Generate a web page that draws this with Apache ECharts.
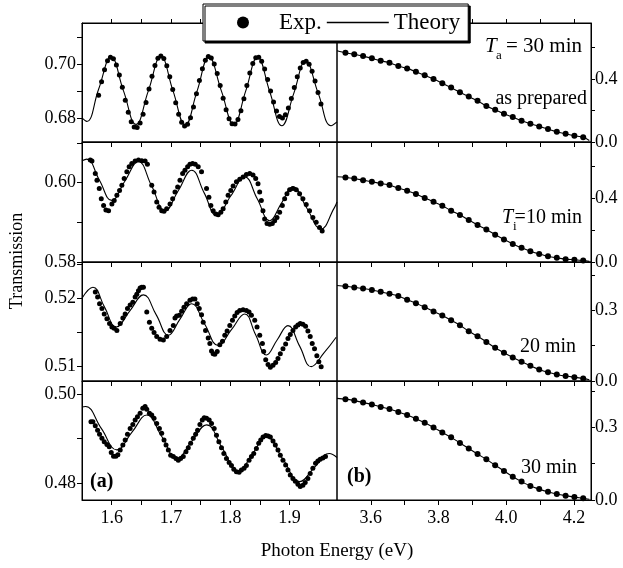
<!DOCTYPE html>
<html><head><meta charset="utf-8">
<script src="https://cdn.jsdelivr.net/npm/echarts@6/dist/echarts.min.js"></script>
<style>html,body{margin:0;padding:0;background:#fff}#c{width:623px;height:568px}</style>
</head><body><div id="c"></div>
<script>
// ---------- DATA ----------
// (a) panels: experimental points (x in eV, transmission)
const expA1x = [1.578,1.583,1.588,1.593,1.598,1.603,1.608,1.613,1.618,1.623,1.628,1.633,1.638,1.643,1.648,1.653,1.658,1.663,1.668,1.673,1.678,1.683,1.688,1.693,1.698,1.703,1.708,1.713,1.718,1.723,1.728,1.733,1.738,1.743,1.748,1.753,1.758,1.763,1.768,1.773,1.778,1.783,1.788,1.793,1.798,1.803,1.808,1.813,1.818,1.823,1.828,1.833,1.838,1.843,1.848,1.853,1.858,1.863,1.868,1.873,1.878,1.883,1.888,1.893,1.898,1.903,1.908,1.913,1.918,1.923,1.928,1.933,1.938,1.943,1.948,1.953];
const expA1y = [0.6885,0.6935,0.6980,0.7014,0.7027,0.7021,0.6998,0.6961,0.6915,0.6866,0.6821,0.6786,0.6766,0.6764,0.6781,0.6814,0.6858,0.6908,0.6956,0.6996,0.7023,0.7032,0.7022,0.6995,0.6954,0.6906,0.6857,0.6814,0.6784,0.6770,0.6776,0.6801,0.6841,0.6890,0.6940,0.6984,0.7016,0.7030,0.7024,0.7002,0.6966,0.6921,0.6874,0.6831,0.6797,0.6778,0.6777,0.6794,0.6827,0.6872,0.6921,0.6968,0.7004,0.7025,0.7027,0.7012,0.6983,0.6944,0.6901,0.6860,0.6826,0.6805,0.6800,0.6812,0.6837,0.6873,0.6914,0.6954,0.6987,0.7007,0.7012,0.7001,0.6975,0.6938,0.6895,0.6852];
const expA2x = [1.5640,1.5668,1.5724,1.5752,1.5791,1.5825,1.5864,1.5903,1.5948,1.6004,1.6043,1.6088,1.6133,1.6172,1.6211,1.6256,1.6295,1.6340,1.6396,1.6452,1.6508,1.6564,1.6603,1.6676,1.6715,1.6760,1.6799,1.6844,1.6883,1.6928,1.6984,1.7029,1.7068,1.7113,1.7152,1.7197,1.7236,1.7281,1.7320,1.7365,1.7410,1.7460,1.7516,1.7600,1.7640,1.7673,1.7712,1.7757,1.7796,1.7841,1.7880,1.7925,1.7964,1.8009,1.8048,1.8104,1.8160,1.8216,1.8272,1.8328,1.8384,1.8429,1.8468,1.8496,1.8524,1.8552,1.8580,1.8620,1.8665,1.8709,1.8749,1.8788,1.8833,1.8878,1.8917,1.8956,1.9001,1.9057,1.9113,1.9169,1.9225,1.9281,1.9337,1.9393,1.9449,1.9505,1.9550];
const expA2y = [0.6057,0.6054,0.6023,0.6006,0.5985,0.5959,0.5942,0.5931,0.5929,0.5946,0.5955,0.5968,0.5980,0.5993,0.6010,0.6027,0.6040,0.6048,0.6054,0.6057,0.6055,0.6054,0.6046,0.5993,0.5976,0.5951,0.5938,0.5929,0.5928,0.5934,0.5946,0.5959,0.5976,0.5989,0.6006,0.6023,0.6031,0.6040,0.6046,0.6048,0.6046,0.6040,0.6027,0.5985,0.5963,0.5942,0.5929,0.5921,0.5919,0.5925,0.5934,0.5951,0.5968,0.5980,0.5991,0.6002,0.6008,0.6014,0.6020,0.6023,0.6019,0.6010,0.5997,0.5976,0.5955,0.5929,0.5908,0.5897,0.5895,0.5897,0.5904,0.5912,0.5925,0.5942,0.5959,0.5972,0.5982,0.5985,0.5982,0.5972,0.5959,0.5945,0.5929,0.5912,0.5900,0.5887,0.5878];
const expA3x = [1.5724,1.5763,1.5796,1.5836,1.5875,1.5920,1.5964,1.6004,1.6043,1.6088,1.6144,1.6189,1.6228,1.6267,1.6312,1.6357,1.6396,1.6424,1.6452,1.6480,1.6508,1.6536,1.6592,1.6637,1.6676,1.6715,1.6760,1.6816,1.6872,1.6928,1.6984,1.7040,1.7068,1.7096,1.7141,1.7180,1.7219,1.7264,1.7320,1.7365,1.7404,1.7443,1.7477,1.7516,1.7544,1.7583,1.7628,1.7656,1.7684,1.7712,1.7740,1.7780,1.7824,1.7869,1.7908,1.7947,1.7992,1.8037,1.8076,1.8116,1.8160,1.8216,1.8272,1.8317,1.8357,1.8413,1.8452,1.8497,1.8542,1.8564,1.8598,1.8637,1.8676,1.8721,1.8766,1.8805,1.8844,1.8889,1.8934,1.8973,1.9012,1.9057,1.9102,1.9141,1.9180,1.9225,1.9270,1.9309,1.9348,1.9382,1.9421,1.9460,1.9494,1.9533];
const expA3y = [0.5209,0.5202,0.5192,0.5185,0.5177,0.5170,0.5163,0.5158,0.5156,0.5153,0.5163,0.5171,0.5177,0.5185,0.5190,0.5194,0.5202,0.5206,0.5211,0.5215,0.5216,0.5216,0.5180,0.5165,0.5156,0.5150,0.5144,0.5140,0.5139,0.5144,0.5153,0.5160,0.5171,0.5174,0.5175,0.5181,0.5187,0.5192,0.5197,0.5199,0.5199,0.5192,0.5185,0.5176,0.5165,0.5153,0.5142,0.5134,0.5123,0.5119,0.5118,0.5122,0.5132,0.5137,0.5146,0.5152,0.5160,0.5168,0.5174,0.5179,0.5182,0.5183,0.5182,0.5180,0.5175,0.5168,0.5158,0.5146,0.5134,0.5122,0.5110,0.5103,0.5099,0.5102,0.5106,0.5112,0.5119,0.5126,0.5133,0.5141,0.5147,0.5153,0.5158,0.5161,0.5163,0.5162,0.5159,0.5152,0.5144,0.5134,0.5126,0.5116,0.5107,0.5100];
const expA4x = [1.5651,1.5684,1.5724,1.5763,1.5796,1.5836,1.5875,1.5920,1.5959,1.5993,1.6032,1.6071,1.6105,1.6144,1.6189,1.6228,1.6267,1.6312,1.6357,1.6396,1.6435,1.6480,1.6525,1.6564,1.6592,1.6637,1.6676,1.6715,1.6760,1.6805,1.6844,1.6883,1.6917,1.6956,1.6995,1.7040,1.7085,1.7124,1.7163,1.7208,1.7253,1.7292,1.7332,1.7376,1.7416,1.7449,1.7488,1.7528,1.7561,1.7600,1.7645,1.7684,1.7729,1.7768,1.7808,1.7852,1.7892,1.7936,1.7981,1.8020,1.8060,1.8104,1.8149,1.8188,1.8233,1.8272,1.8317,1.8357,1.8396,1.8441,1.8480,1.8514,1.8553,1.8598,1.8637,1.8676,1.8721,1.8760,1.8805,1.8844,1.8889,1.8934,1.8973,1.9012,1.9057,1.9097,1.9141,1.9180,1.9225,1.9264,1.9309,1.9348,1.9393,1.9438,1.9477,1.9516,1.9561,1.9606];
const expA4y = [0.4938,0.4938,0.4929,0.4919,0.4910,0.4901,0.4893,0.4887,0.4882,0.4869,0.4861,0.4861,0.4864,0.4875,0.4886,0.4897,0.4910,0.4923,0.4932,0.4942,0.4949,0.4957,0.4968,0.4972,0.4966,0.4957,0.4953,0.4946,0.4934,0.4923,0.4912,0.4897,0.4886,0.4875,0.4863,0.4860,0.4856,0.4852,0.4856,0.4860,0.4871,0.4880,0.4890,0.4901,0.4910,0.4919,0.4932,0.4942,0.4947,0.4946,0.4942,0.4934,0.4923,0.4908,0.4893,0.4880,0.4867,0.4856,0.4847,0.4840,0.4832,0.4826,0.4825,0.4830,0.4834,0.4840,0.4852,0.4860,0.4867,0.4878,0.4890,0.4897,0.4904,0.4907,0.4906,0.4904,0.4895,0.4886,0.4875,0.4863,0.4852,0.4841,0.4830,0.4819,0.4811,0.4805,0.4798,0.4793,0.4796,0.4802,0.4811,0.4822,0.4834,0.4845,0.4850,0.4854,0.4857,0.4860];

// (a) panels: theory curves (x, transmission) at extrema and mid-crossings
const theoryA1 = [[1.550,0.6800],[1.558,0.6787],[1.578,0.6907],[1.599,0.7027],[1.620,0.6901],[1.641,0.6776],[1.662,0.6902],[1.683,0.7029],[1.7035,0.6901],[1.724,0.6773],[1.744,0.6900],[1.764,0.7028],[1.785,0.6901],[1.806,0.6775],[1.826,0.6900],[1.846,0.7027],[1.8665,0.6899],[1.887,0.6771],[1.907,0.6891],[1.927,0.7012],[1.9485,0.6891],[1.970,0.6771],[1.980,0.6785]];
const theoryA2 = [[1.550,0.6055],[1.558,0.6059],[1.579,0.6007],[1.600,0.5955],[1.6225,0.6004],[1.645,0.6053],[1.6675,0.5991],[1.690,0.5929],[1.7125,0.5980],[1.735,0.6031],[1.756,0.5974],[1.777,0.5917],[1.8008,0.5966],[1.8245,0.6014],[1.8455,0.5959],[1.8665,0.5904],[1.886,0.5947],[1.9056,0.5989],[1.929,0.5936],[1.953,0.5883],[1.975,0.5935],[1.980,0.5951]];
const theoryA3 = [[1.550,0.5200],[1.5685,0.5216],[1.588,0.5187],[1.6077,0.5158],[1.631,0.5182],[1.6536,0.5205],[1.675,0.5176],[1.6956,0.5146],[1.715,0.5169],[1.7349,0.5192],[1.757,0.5162],[1.7796,0.5131],[1.802,0.5154],[1.8244,0.5177],[1.8426,0.5147],[1.8609,0.5117],[1.879,0.5139],[1.8973,0.5160],[1.917,0.5130],[1.9366,0.5100],[1.958,0.5120],[1.9786,0.5143]];
const theoryA4 = [[1.550,0.4971],[1.556,0.4972],[1.5825,0.4923],[1.6088,0.4875],[1.634,0.4914],[1.6593,0.4953],[1.6845,0.4905],[1.7097,0.4856],[1.735,0.4894],[1.760,0.4931],[1.7866,0.4879],[1.8132,0.4826],[1.837,0.4865],[1.8609,0.4904],[1.889,0.4854],[1.9169,0.4804],[1.942,0.4836],[1.967,0.4867],[1.980,0.4858]];

// (b) panels: photon energy and values
const rightX = [3.525,3.551,3.577,3.603,3.629,3.655,3.681,3.707,3.733,3.759,3.785,3.811,3.837,3.863,3.889,3.915,3.941,3.967,3.993,4.019,4.045,4.071,4.097,4.123,4.149,4.175,4.201,4.227];
const expB1 = [0.566,0.556,0.545,0.531,0.515,0.503,0.482,0.467,0.446,0.423,0.400,0.373,0.345,0.316,0.288,0.261,0.229,0.204,0.179,0.158,0.135,0.116,0.099,0.082,0.065,0.052,0.040,0.030];
const expB2 = [0.532,0.525,0.515,0.505,0.494,0.484,0.465,0.448,0.428,0.403,0.379,0.354,0.323,0.296,0.265,0.233,0.204,0.172,0.141,0.114,0.089,0.068,0.051,0.036,0.026,0.018,0.014,0.009];
const expB3 = [0.403,0.398,0.393,0.387,0.379,0.371,0.361,0.346,0.331,0.314,0.296,0.279,0.258,0.237,0.212,0.190,0.166,0.141,0.120,0.100,0.082,0.065,0.049,0.037,0.028,0.021,0.016,0.011];
const expB4 = [0.417,0.411,0.403,0.395,0.385,0.376,0.364,0.351,0.336,0.319,0.300,0.279,0.259,0.236,0.213,0.190,0.168,0.144,0.120,0.096,0.076,0.058,0.045,0.034,0.025,0.018,0.012,0.007];
const theoryBStart = [0.579,0.536,0.406,0.420];  // value at 3.50 eV
const theoryBEnd = [0.010,0.004,0.005,0.003];    // value at 4.245 eV

// axes ticks / labels
const leftXTicks = [1.6,1.65,1.7,1.75,1.8,1.85,1.9,1.95];
const leftXLabels = [1.6,1.7,1.8,1.9];
const rightXTicks = [3.6,3.7,3.8,3.9,4.0,4.1,4.2];
const rightXLabels = [3.6,3.8,4.0,4.2];
const leftYRange = [[0.671,0.7155],[0.58,0.6102],[0.5079,0.5253],[0.4763,0.5029]];
const leftYTicks = [[0.68,0.69,0.70,0.71],[0.58,0.59,0.60,0.61],[0.51,0.515,0.52,0.525],[0.48,0.49,0.50]];
const leftYLabels = [[0.68,0.70],[0.58,0.60],[0.51,0.52],[0.48,0.50]];
const rightYRange = [[0,0.755],[0,0.755],[0,0.506],[0,0.492]];
const rightYTicks = [[0,0.2,0.4,0.6],[0,0.2,0.4,0.6],[0,0.15,0.3,0.45],[0,0.15,0.3,0.45]];
const rightYLabels = [[0,0.4],[0,0.4],[0,0.3],[0,0.3]];

// ---------- CHART ----------
const FONT = "Liberation Serif";
const rows = [{top:23,h:119},{top:142,h:120},{top:262,h:119},{top:381,h:119}];
const expA = [[expA1x,expA1y],[expA2x,expA2y],[expA3x,expA3y],[expA4x,expA4y]];
const theoryA = [theoryA1,theoryA2,theoryA3,theoryA4];
const expB = [expB1,expB2,expB3,expB4];

const grid = [], xAxis = [], yAxis = [], series = [];
const black = '#000';
const lab = (show, vals, fmt, margin) => ({show, customValues: vals, formatter: fmt, margin, color: black, fontFamily: FONT, fontSize: 18});
const tick = (vals, len) => ({show:true, inside:false, length:len, customValues: vals, lineStyle:{color:black, width:1}});
const line = {show:true, onZero:false, lineStyle:{color:black, width:1}};

for (let r = 0; r < 4; r++) {
  grid.push({left:82, top:rows[r].top, width:255, height:rows[r].h, show:true, borderColor:black, borderWidth:1, backgroundColor:'transparent'});
}
for (let r = 0; r < 4; r++) {
  grid.push({left:337, top:rows[r].top, width:254, height:rows[r].h, show:true, borderColor:black, borderWidth:1, backgroundColor:'transparent'});
}
for (let r = 0; r < 4; r++) {
  xAxis.push({gridIndex:r, type:'value', min:1.55, max:1.98, axisLine:line, splitLine:{show:false},
    axisTick:tick(leftXTicks,5), axisLabel:lab(r===3, leftXLabels, v=>(+v).toFixed(1), 9)});
  yAxis.push({gridIndex:r, type:'value', position:'left', min:leftYRange[r][0], max:leftYRange[r][1], axisLine:line, splitLine:{show:false},
    axisTick:tick(leftYTicks[r],5), axisLabel:lab(true, leftYLabels[r], v=>(+v).toFixed(2), 6)});
}
for (let r = 0; r < 4; r++) {
  xAxis.push({gridIndex:4+r, type:'value', min:3.5, max:4.25, axisLine:line, splitLine:{show:false},
    axisTick:tick(rightXTicks,5), axisLabel:lab(r===3, rightXLabels, v=>(+v).toFixed(1), 9)});
  yAxis.push({gridIndex:4+r, type:'value', position:'right', min:rightYRange[r][0], max:rightYRange[r][1], axisLine:line, splitLine:{show:false},
    axisTick:tick(rightYTicks[r],4), axisLabel:lab(true, rightYLabels[r], v=>(+v).toFixed(1), 4)});
}
// top mirror axes on the first row
xAxis.push({gridIndex:0, type:'value', position:'top', min:1.55, max:1.98, axisLine:line, splitLine:{show:false}, axisTick:tick(leftXTicks,4), axisLabel:{show:false}});
xAxis.push({gridIndex:4, type:'value', position:'top', min:3.5, max:4.25, axisLine:line, splitLine:{show:false}, axisTick:tick(rightXTicks,4), axisLabel:{show:false}});

for (let r = 0; r < 4; r++) {
  series.push({name:'Theory', type:'line', xAxisIndex:r, yAxisIndex:r, data:theoryA[r], smooth:0.45, symbol:'none', showSymbol:false,
    lineStyle:{color:black, width:1.1}, itemStyle:{color:black}, z:2, silent:true});
  series.push({name:'Exp.', type:'scatter', xAxisIndex:r, yAxisIndex:r,
    data: expA[r][0].map((x,i)=>[x, expA[r][1][i]]), symbol:'circle', symbolSize:5, itemStyle:{color:black, opacity:1}, z:3, silent:true});
  const bLine = [[3.5, theoryBStart[r]]].concat(rightX.map((x,i)=>[x, expB[r][i]])).concat([[4.245, theoryBEnd[r]]]);
  series.push({name:'Theory', type:'line', xAxisIndex:4+r, yAxisIndex:4+r, data:bLine, smooth:0.3, symbol:'none', showSymbol:false,
    lineStyle:{color:black, width:1.1}, itemStyle:{color:black}, z:2, silent:true});
  series.push({name:'Exp.', type:'scatter', xAxisIndex:4+r, yAxisIndex:4+r,
    data: rightX.map((x,i)=>[x, expB[r][i]]), symbol:'circle', symbolSize:6, itemStyle:{color:black, opacity:1}, z:3, silent:true});
}

const txt = (text, x, y, font, align, extra) => Object.assign({type:'text', x, y, z:20, silent:true,
  style:{text, font, fill:black, align:align, verticalAlign:'middle', textAlign:align, textVerticalAlign:'middle'}}, extra||{});

const graphic = [
  txt('Transmission', 17, 261, `18px ${FONT}`, 'center', {rotation: Math.PI/2}),
  txt('Photon Energy (eV)', 337, 551, `19px ${FONT}`, 'center'),
  txt('T', 485, 46, `italic 21px ${FONT}`, 'left'),
  txt('a', 496, 56, `13px ${FONT}`, 'left'),
  txt('= 30 min', 582, 46, `21px ${FONT}`, 'right'),
  txt('as prepared', 587, 99, `20px ${FONT}`, 'right'),
  txt('T', 502, 218, `italic 20px ${FONT}`, 'left'),
  txt('i', 513, 227, `13px ${FONT}`, 'left'),
  txt('=10 min', 582, 218, `20px ${FONT}`, 'right'),
  txt('20 min', 576, 347, `20px ${FONT}`, 'right'),
  txt('30 min', 577, 468, `20px ${FONT}`, 'right'),
  txt('(a)', 90, 482, `bold 20px ${FONT}`, 'left'),
  txt('(b)', 347, 477, `bold 20px ${FONT}`, 'left')
];

const chart = echarts.init(document.getElementById('c'), null, {renderer:'canvas'});
chart.setOption({
  animation:false,
  backgroundColor:'#fff',
  textStyle:{fontFamily:FONT},
  grid, xAxis, yAxis, series, graphic,
  legend:{
    data:[
      {name:'Exp.', icon:'circle', itemStyle:{color:black, opacity:1}},
      {name:'Theory', icon:'path://M0,0H62V1.3H0Z', itemStyle:{color:black, opacity:1}}
    ],
    left:203, top:4, orient:'horizontal',
    itemWidth:62, itemHeight:12, itemGap:5,
    padding:[7,8,7,34],
    backgroundColor:'#fff', borderColor:black, borderWidth:1,
    shadowColor:'#000', shadowBlur:0, shadowOffsetX:2, shadowOffsetY:2,
    textStyle:{fontFamily:FONT, fontSize:23, color:black},
    selectedMode:false, z:10
  }
});
</script>
</body></html>
